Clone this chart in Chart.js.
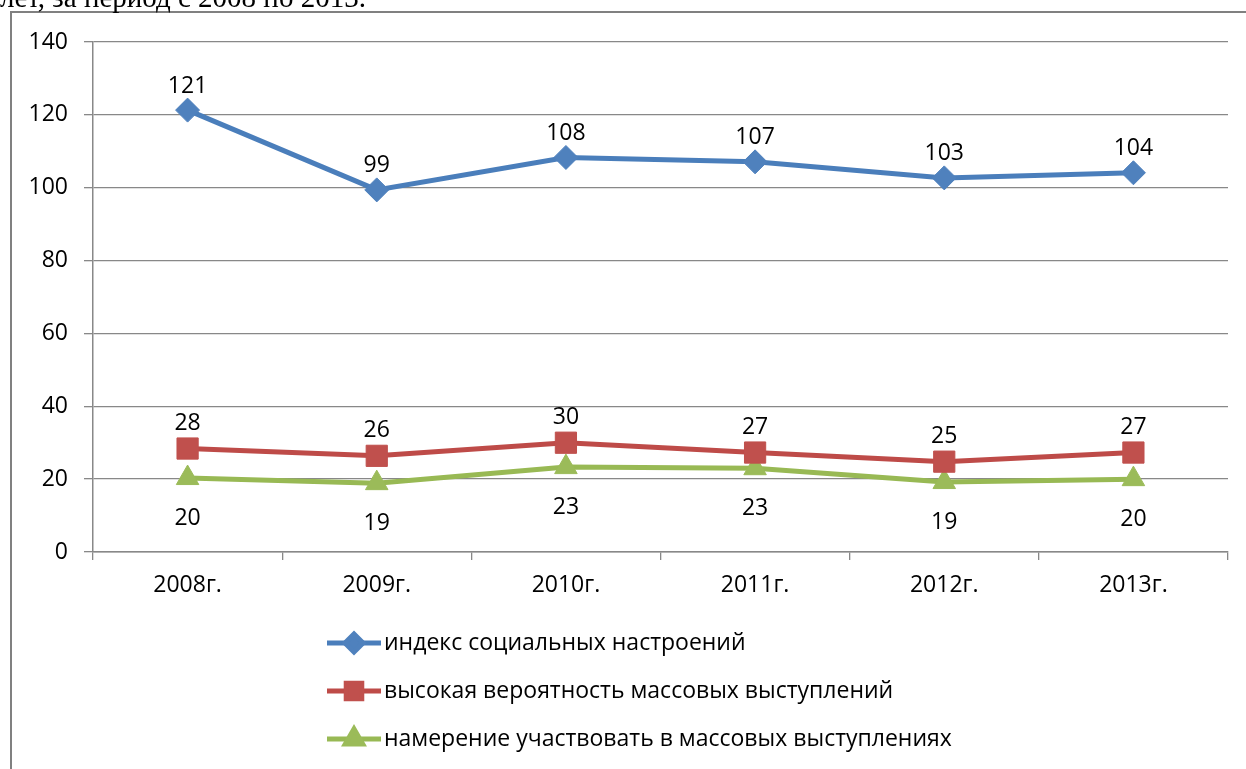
<!DOCTYPE html>
<html>
<head>
<meta charset="utf-8">
<script src="https://cdn.jsdelivr.net/npm/chart.js@4/dist/chart.umd.min.js"></script>
<style>
    body { margin: 0; background: #fff; overflow: hidden; }
    .caption {
        position: absolute;
        left: 0;
        top: -17px;
        font-family: 'Liberation Serif', 'Times New Roman', serif;
        font-size: 29px;
        line-height: 29px;
        color: #000;
        white-space: nowrap;
        z-index: 2;
    }
    #chart { position: absolute; left: 0; top: 0; }
</style>
</head>
<body>
<div class="caption">лет, за период с 2008 по 2013.</div>
<canvas id="chart" width="1246" height="769"></canvas>
<script>
// Данные по годам
const years = ['2008г.', '2009г.', '2010г.', '2011г.', '2012г.', '2013г.'];
const socialIndex = [121.3, 99.4, 108.3, 107.1, 102.7, 104.1];
const protestChance = [28.4, 26.4, 30.0, 27.3, 24.8, 27.3];
const protestIntent = [20.3, 18.9, 23.3, 23.0, 19.2, 20.0];
const yTicks = [0, 20, 40, 60, 80, 100, 120, 140];

const FONT = 'Open Sans';
const FONT_SIZE = 23;

// рамка вокруг диаграммы
const framePlugin = {
    id: 'frame',
    beforeDraw(chart) {
        const ctx = chart.ctx;
        ctx.save();
        ctx.strokeStyle = '#808080';
        ctx.lineWidth = 2;
        ctx.strokeRect(11, 12, 1300, 800);
        ctx.restore();
    }
};

// подписи значений у точек
const valueLabels = {
    id: 'valueLabels',
    afterDatasetsDraw(chart) {
        const ctx = chart.ctx;
        ctx.save();
        ctx.font = FONT_SIZE + 'px ' + FONT;
        ctx.fillStyle = '#000';
        ctx.textAlign = 'center';
        ctx.textBaseline = 'middle';
        chart.data.datasets.forEach((ds, i) => {
            const meta = chart.getDatasetMeta(i);
            meta.data.forEach((pt, j) => {
                ctx.fillText(Math.round(ds.data[j]), pt.x, pt.y + ds.labelOffset);
            });
        });
        ctx.restore();
    }
};

// легенда: линия с маркером и подпись, в столбик
const lineLegend = {
    id: 'lineLegend',
    afterDraw(chart) {
        const ctx = chart.ctx;
        ctx.save();
        ctx.font = FONT_SIZE + 'px ' + FONT;
        ctx.textBaseline = 'middle';
        chart.data.datasets.forEach((ds, i) => {
            const y = 643 + i * 48;
            ctx.strokeStyle = ds.borderColor;
            ctx.lineWidth = 5;
            ctx.beginPath();
            ctx.moveTo(327, y);
            ctx.lineTo(381, y);
            ctx.stroke();
            ctx.fillStyle = ds.pointBackgroundColor;
            ctx.strokeStyle = ds.pointBackgroundColor;
            Chart.helpers.drawPoint(ctx, {
                pointStyle: ds.pointStyle,
                radius: ds.legendRadius,
                rotation: 0,
                borderWidth: 1
            }, 354, y);
            ctx.fillStyle = '#000';
            ctx.fillText(ds.label, 384, y);
        });
        ctx.restore();
    }
};

new Chart(document.getElementById('chart'), {
    type: 'line',
    data: {
        labels: years,
        datasets: [
            {
                label: 'индекс социальных настроений',
                data: socialIndex,
                borderColor: '#4A7EBB',
                pointBackgroundColor: '#4F81BD',
                pointBorderColor: '#4F81BD',
                pointStyle: 'rectRot',
                pointRadius: 12,
                legendRadius: 9,
                labelOffset: -24
            },
            {
                label: 'высокая вероятность массовых выступлений',
                data: protestChance,
                borderColor: '#BE4B48',
                pointBackgroundColor: '#C0504D',
                pointBorderColor: '#C0504D',
                pointStyle: 'rect',
                pointRadius: 15,
                legendRadius: 11,
                labelOffset: -25
            },
            {
                label: 'намерение участвовать в массовых выступлениях',
                data: protestIntent,
                borderColor: '#98B954',
                pointBackgroundColor: '#9BBB59',
                pointBorderColor: '#9BBB59',
                pointStyle: 'triangle',
                pointRadius: 13,
                legendRadius: 10,
                labelOffset: 40
            }
        ]
    },
    options: {
        responsive: false,
        animation: false,
        elements: {
            line: { borderWidth: 5, tension: 0 },
            point: { borderWidth: 1, hoverRadius: 12 }
        },
        layout: { padding: { left: 0, top: 42, right: 18, bottom: 0 } },
        plugins: {
            legend: { display: false },
            tooltip: { enabled: false }
        },
        scales: {
            x: {
                offset: true,
                grid: {
                    offset: true,
                    drawOnChartArea: false,
                    drawTicks: true,
                    tickLength: 8,
                    color: '#888',
                    lineWidth: 1.3
                },
                border: { color: '#888', width: 1.5 },
                ticks: {
                    padding: 12,
                    color: '#000',
                    font: { family: FONT, size: FONT_SIZE }
                },
                afterFit(scale) { scale.height = 217; }
            },
            y: {
                min: 0,
                max: 140,
                afterBuildTicks(scale) {
                    scale.ticks = yTicks.map(v => ({ value: v }));
                },
                grid: {
                    color: '#888',
                    lineWidth: 1.3,
                    tickLength: 9
                },
                border: { color: '#888', width: 1.5 },
                ticks: {
                    padding: 16,
                    color: '#000',
                    font: { family: FONT, size: FONT_SIZE }
                },
                afterFit(scale) { scale.width = 93; }
            }
        }
    },
    plugins: [framePlugin, valueLabels, lineLegend]
});
</script>
</body>
</html>
